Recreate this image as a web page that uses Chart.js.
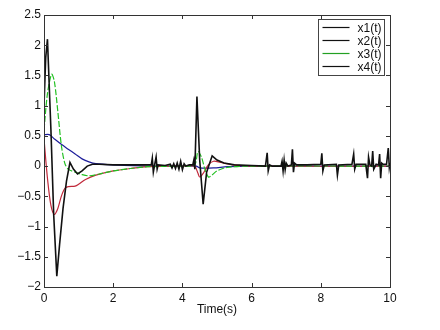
<!DOCTYPE html>
<html>
<head>
<meta charset="utf-8">
<script src="https://cdn.jsdelivr.net/npm/chart.js@4"></script>
<style>
  body { margin: 0; background: #fff; }
  #wrap { width: 440px; height: 330px; }
</style>
</head>
<body>
<div id="wrap"><canvas id="lineChart"></canvas></div>
<script>
// series data (time in s, values)
const x1T = [0, 0.15, 0.3, 0.5, 0.7, 0.9, 1.1, 1.3, 1.5, 2.0, 3.0, 4.4, 4.5, 4.9, 5.3, 6, 10];
const x1V = [0.52, 0.52, 0.45, 0.36, 0.28, 0.2, 0.12, 0.07, 0.04, 0.02, 0.0, 0.0, -0.03, -0.03, -0.01, 0, 0];

const x2T = [0, 0.1, 0.2, 0.3, 0.4, 0.5, 0.6, 0.7, 0.9, 1.0, 1.2, 1.5, 2.0, 2.5, 3.0, 4.0, 4.35, 4.45, 4.5, 4.6, 4.75, 4.9, 5.1, 5.5, 6, 10];
const x2V = [0.45, -0.2, -0.65, -0.8, -0.7, -0.5, -0.37, -0.34, -0.33, -0.3, -0.22, -0.15, -0.08, -0.04, -0.01, 0, 0, -0.12, -0.18, -0.12, 0.02, 0.08, 0.06, 0.02, 0, 0];

const x3T = [0, 0.1, 0.22, 0.3, 0.4, 0.5, 0.6, 0.7, 0.9, 1.1, 1.3, 1.6, 2.0, 2.5, 3.0, 4.0, 4.35, 4.45, 4.55, 4.65, 4.75, 4.85, 5.0, 5.3, 6, 10];
const x3V = [0.6, 1.2, 1.52, 1.4, 0.9, 0.35, 0.05, -0.05, -0.1, -0.14, -0.16, -0.13, -0.08, -0.04, -0.01, 0, 0.02, 0.24, 0.15, -0.05, -0.18, -0.15, -0.08, -0.02, 0, 0];

const x4T = [0, 0.05, 0.1, 0.2, 0.28, 0.37, 0.45, 0.55, 0.65, 0.75, 0.85, 0.97, 1.1, 1.25, 1.4, 1.6, 2.0, 2.5, 3.0,
  3.1, 3.13, 3.16, 3.2, 3.24, 3.27, 3.3, 3.5, 3.65, 3.7, 3.75, 3.8, 3.85, 3.9, 3.95, 4.0, 4.05, 4.1, 4.2, 4.3,
  4.33, 4.36, 4.42, 4.5, 4.6, 4.7, 4.86, 5.0, 5.2, 5.5, 6.0, 6.4, 6.45, 6.48, 6.52, 6.6,
  6.85, 6.88, 6.91, 6.94, 6.97, 7.0, 7.05, 7.15, 7.18, 7.21, 7.24, 7.3, 7.6,
  8.0, 8.03, 8.06, 8.1, 8.45, 8.48, 8.52, 8.9, 8.95, 8.98, 9.02,
  9.3, 9.35, 9.38, 9.42, 9.47, 9.5, 9.53, 9.6, 9.67, 9.7, 9.73, 9.76, 9.8, 9.9, 9.95, 9.98, 10];
const x4V = [1.0, 1.8, 2.1, 0.6, -0.8, -1.82, -1.3, -0.7, -0.25, 0.06, -0.05, -0.13, -0.08, 0.0, 0.03, 0.03, 0.02, 0.02, 0.02,
  0.02, 0.13, -0.1, 0.03, 0.15, -0.05, 0.02, 0.01, 0.03, -0.03, 0.04, -0.04, 0.05, -0.05, 0.08, -0.06, 0.04, 0.0, 0.02, 0.02,
  0.1, -0.05, 1.15, 0.1, -0.63, -0.1, 0.17, 0.1, 0.05, 0.02, 0.01, 0.0, 0.22, -0.08, 0.02, 0.0,
  0.0, 0.08, -0.08, 0.1, -0.06, 0.05, 0.0, 0.02, 0.28, -0.1, 0.05, 0.02, 0.02,
  0.03, 0.21, -0.08, 0.02, 0.03, -0.15, 0.02, 0.03, 0.2, -0.05, 0.03,
  0.03, -0.2, 0.15, 0.02, 0.0, 0.25, -0.05, 0.03, 0.02, 0.2, -0.2, 0.05, 0.03, 0.03, 0.3, -0.02, 0.05];

const seriesNames = ["x1(t)", "x2(t)", "x3(t)", "x4(t)"];
const seriesColors = ["#1c1c9a", "#c0283a", "#22c022", "#111111"];
const legendColors = ["#111111", "#111111", "#22a022", "#111111"];

const xTicks = [0, 2, 4, 6, 8, 10];
const yTicks = [-2, -1.5, -1, -0.5, 0, 0.5, 1, 1.5, 2, 2.5];

function toPoints(ts, vs) {
  return ts.map((t, i) => ({ x: t, y: vs[i] }));
}

const allT = [x1T, x2T, x3T, x4T];
const allV = [x1V, x2V, x3V, x4V];

const datasets = seriesNames.map((name, i) => ({
  label: name,
  data: toPoints(allT[i], allV[i]),
  borderColor: seriesColors[i],
  borderWidth: i === 3 ? 1.6 : 1.2,
  borderDash: i === 2 ? [6, 2] : [],
  pointRadius: 0,
  tension: i === 3 ? 0 : 0.3,
  order: 4 - i
}));

function fmt(v) {
  return String(v).replace('-', '\u2212');
}

const FONT = '"Liberation Sans", Arial, sans-serif';

// frame, inward ticks and legend box like matlab
const matlabAxes = {
  id: 'matlabAxes',
  afterDraw(chart) {
    const ctx = chart.ctx;
    const a = chart.chartArea;
    const xs = chart.scales.x;
    const ys = chart.scales.y;
    ctx.save();
    ctx.strokeStyle = '#333';
    ctx.lineWidth = 1;
    ctx.strokeRect(a.left + 0.5, a.top + 0.5, a.right - a.left, a.bottom - a.top);
    ctx.beginPath();
    xTicks.forEach(t => {
      const px = Math.round(xs.getPixelForValue(t)) + 0.5;
      ctx.moveTo(px, a.bottom); ctx.lineTo(px, a.bottom - 4);
      ctx.moveTo(px, a.top); ctx.lineTo(px, a.top + 4);
    });
    yTicks.forEach(t => {
      const py = Math.round(ys.getPixelForValue(t)) + 0.5;
      ctx.moveTo(a.left, py); ctx.lineTo(a.left + 4, py);
      ctx.moveTo(a.right, py); ctx.lineTo(a.right - 4, py);
    });
    ctx.stroke();

    // legend
    const bx = 318.5, by = 19.5, bw = 66, bh = 56;
    ctx.fillStyle = '#fff';
    ctx.fillRect(bx, by, bw, bh);
    ctx.strokeStyle = '#444';
    ctx.strokeRect(bx, by, bw, bh);
    ctx.font = '12px ' + FONT;
    ctx.textAlign = 'right';
    ctx.textBaseline = 'middle';
    seriesNames.forEach((name, i) => {
      const yy = by + 8 + i * 13;
      ctx.strokeStyle = legendColors[i];
      ctx.lineWidth = 1.2;
      ctx.beginPath();
      ctx.moveTo(bx + 4, yy); ctx.lineTo(bx + 31, yy);
      ctx.stroke();
      ctx.fillStyle = '#111';
      ctx.fillText(name, bx + bw - 3, yy + 1);
    });
    ctx.restore();
  }
};

const ctx = document.getElementById('lineChart').getContext('2d');
new Chart(ctx, {
  type: 'line',
  data: { datasets: datasets },
  options: {
    responsive: true,
    maintainAspectRatio: false,
    animation: false,
    layout: { padding: { left: 0, right: 50, top: 15, bottom: 13 } },
    plugins: {
      legend: { display: false },
      tooltip: { enabled: false }
    },
    scales: {
      x: {
        type: 'linear',
        min: 0,
        max: 10,
        afterBuildTicks: s => { s.ticks = xTicks.map(v => ({ value: v })); },
        afterFit: s => { s.height = 30; },
        grid: { display: false, drawTicks: false },
        border: { display: false },
        ticks: {
          padding: 4,
          color: '#111',
          font: { family: FONT, size: 12 },
          callback: v => fmt(v)
        },
        title: {
          display: true,
          text: 'Time(s)',
          color: '#111',
          font: { family: FONT, size: 12 },
          padding: { top: 0, bottom: 0 }
        }
      },
      y: {
        min: -2,
        max: 2.5,
        afterBuildTicks: s => { s.ticks = yTicks.map(v => ({ value: v })); },
        afterFit: s => { s.width = 44; },
        grid: { display: false, drawTicks: false },
        border: { display: false },
        ticks: {
          padding: 3,
          color: '#111',
          font: { family: FONT, size: 12 },
          callback: v => fmt(v)
        }
      }
    }
  },
  plugins: [matlabAxes]
});
</script>
</body>
</html>
